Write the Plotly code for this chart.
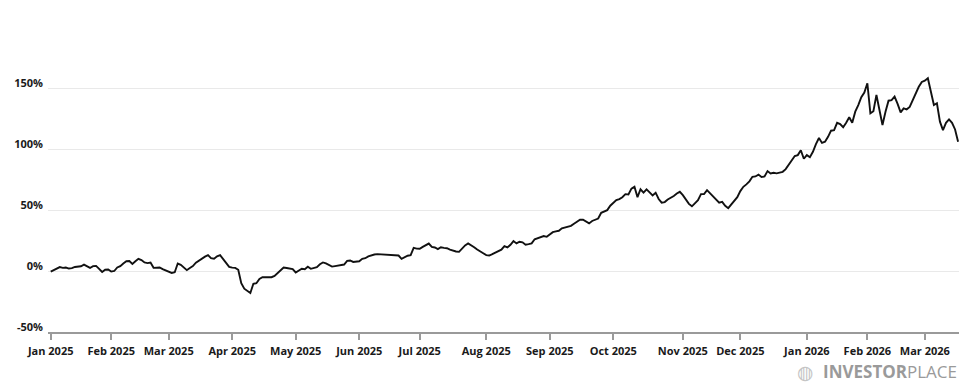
import pandas as pd
import plotly.graph_objects as go

# Cumulative return (%) per trading day, starting 2 Jan 2025
pct_change = [
    # Jan 2025 (20)
    -0.5, 0.8, 2.5, 3.2, 2.6, 2.8, 2.0, 2.3, 3.3, 3.9,
    3.9, 5.2, 4.0, 2.5, 4.0, 4.2, 1.8, -0.8, 1.0, 1.2,
    # Feb 2025 (19)
    -0.5, 0.0, 2.9, 4.0, 6.2, 8.0, 8.2, 5.8, 8.0, 10.0,
    9.0, 7.0, 6.5, 7.0, 2.6, 2.7, 2.9, 1.5, 0.5,
    # Mar 2025 (21)
    -0.8, -1.6, -1.0, 6.1, 5.0, 3.0, 0.7, 2.5, 4.0, 6.8,
    8.5, 10.5, 11.8, 13.0, 10.5, 10.0, 12.0, 13.0, 10.0, 6.7,
    3.4,
    # Apr 2025 (21)
    2.8, 2.6, 1.0, -10.0, -14.5, -16.0, -18.0, -10.5, -10.0, -6.5,
    -5.1, -5.1, -5.0, -5.1, -4.0, -1.5, 1.0, 2.9, 2.5, 2.0,
    1.5,
    # May 2025 (21)
    -1.2, 0.0, 1.8, 1.5, 3.5, 1.8, 2.2, 3.2, 5.5, 7.0,
    6.2, 5.0, 3.6, 4.0, 4.5, 5.0, 5.3, 8.3, 8.6, 7.4,
    7.5,
    # Jun 2025 (20)
    8.0, 10.0, 10.5, 12.0, 13.0, 13.5, 13.8, 13.6, 13.5, 13.2,
    13.5, 13.2, 12.8, 12.7, 10.0, 11.5, 12.5, 13.0, 19.0, 18.3,
    # Jul 2025 (22)
    18.2, 19.8, 21.5, 22.5, 19.8, 19.3, 17.9, 19.5, 19.0, 18.7,
    17.5, 16.5, 16.0, 15.7, 18.5, 21.0, 22.6, 21.2, 19.5, 17.6,
    16.3, 14.5,
    # Aug 2025 (21)
    13.0, 12.7, 13.8, 14.9, 16.3, 17.5, 20.4, 19.3, 21.5, 24.5,
    22.6, 24.0, 23.5, 21.5, 22.0, 22.6, 26.0, 27.0, 27.5, 28.6,
    28.0,
    # Sep 2025 (21)
    30.0, 31.8, 32.5, 33.0, 35.0, 35.7, 36.0, 37.0, 38.8, 40.5,
    42.0, 42.0, 40.3, 39.0, 41.0, 41.8, 43.0, 47.7, 48.8, 49.9,
    53.5,
    # Oct 2025 (23)
    56.0, 58.1, 59.0, 60.5, 63.0, 62.8, 67.5, 69.0, 60.5, 67.0,
    64.2, 66.9, 64.5, 62.0, 64.2, 59.0, 56.0, 56.5, 58.6, 59.8,
    61.5, 63.5, 64.9,
    # Nov 2025 (19)
    62.2, 58.6, 55.0, 53.0, 55.9, 58.0, 63.0, 63.0, 66.3, 63.5,
    61.5, 58.6, 56.0, 56.7, 53.5, 51.5, 54.8, 57.5, 60.5,
    # Dec 2025 (22)
    65.5, 69.0, 71.0, 73.5, 77.2, 77.5, 79.0, 77.0, 77.5, 81.9,
    80.0, 80.5, 80.0, 80.5, 81.3, 83.5, 87.0, 90.9, 94.2, 95.0,
    99.0, 92.0,
    # Jan 2026 (20)
    95.0, 93.3, 97.7, 104.0, 109.0, 105.0, 106.0, 110.0, 115.0, 115.5,
    121.5, 120.4, 117.8, 121.5, 126.0, 121.5, 130.6, 136.0, 142.4, 146.2,
    # Feb 2026 (19)
    153.9, 129.3, 131.0, 144.3, 132.5, 119.7, 130.6, 139.6, 140.0, 142.9,
    137.0, 130.0, 133.3, 132.5, 134.5, 140.5, 146.0, 151.0, 155.0,
    # Mar 2026 (12)
    156.0, 158.0, 148.0, 136.0, 137.5, 122.4, 115.5, 121.5, 124.3, 121.5,
    116.0, 106.0,
]

market_holidays = [
    "2025-01-09", "2025-01-20", "2025-02-17", "2025-04-18", "2025-05-26",
    "2025-06-19", "2025-07-04", "2025-09-01", "2025-11-27", "2025-12-25",
    "2026-01-01", "2026-01-19", "2026-02-16",
]

month_labels = [
    "Jan 2025", "Feb 2025", "Mar 2025", "Apr 2025", "May 2025", "Jun 2025",
    "Jul 2025", "Aug 2025", "Sep 2025", "Oct 2025", "Nov 2025", "Dec 2025",
    "Jan 2026", "Feb 2026", "Mar 2026",
]

y_tick_values = [-50, 0, 50, 100, 150, 200]
y_tick_labels = ["-50%", "0%", "50%", "100%", "150%", ""]

dates = pd.bdate_range("2025-01-02", periods=len(pct_change), freq="C",
                       holidays=market_holidays)
date_str = [d.strftime("%Y-%m-%d") for d in dates]
s = pd.Series(date_str, index=dates)
month_first = s.groupby([dates.year, dates.month]).first().tolist()

fig = go.Figure()
fig.add_trace(go.Scatter(
    x=date_str, y=pct_change, mode="lines",
    line=dict(color="#111111", width=1.9),
    hoverinfo="skip", showlegend=False,
))

tick_font = dict(family="Open Sans", size=11, color="#1a1a1a", weight=700)

fig.update_xaxes(
    type="category", automargin=False,
    tickvals=month_first, ticktext=month_labels,
    range=[-0.9, len(pct_change) - 0.7],
    showgrid=False, zeroline=False,
    showline=True, linecolor="#9a9a9a", linewidth=1.5,
    ticks="outside", ticklen=6, tickwidth=1.5, tickcolor="#9a9a9a",
    tickfont=tick_font, ticklabelstandoff=2,
)
fig.update_yaxes(
    automargin=False,
    range=[-50, 200],
    tickvals=y_tick_values, ticktext=y_tick_labels,
    showgrid=True, gridcolor="#e9e9e9", gridwidth=1,
    zeroline=False, showline=False, ticks="",
    tickfont=tick_font, ticklabelshift=-5, ticklabelstandoff=4,
)

fig.add_annotation(
    xref="paper", yref="paper", x=1.0, y=-0.131, xanchor="right", yanchor="middle",
    text="<b>INVESTOR</b>PLACE", showarrow=False,
    font=dict(family="Open Sans", size=17, color="#9a9a9a"),
)
fig.add_annotation(
    xref="paper", yref="paper", x=0.832, y=-0.131, xanchor="center", yanchor="middle",
    text="◍", showarrow=False,
    font=dict(family="DejaVu Sans", size=19, color="#c4c4c4"),
)

fig.update_layout(
    width=959, height=374,
    margin=dict(l=40, r=8, t=19, b=50, autoexpand=False),
    plot_bgcolor="white", paper_bgcolor="white",
)

fig.write_html("out.html")
